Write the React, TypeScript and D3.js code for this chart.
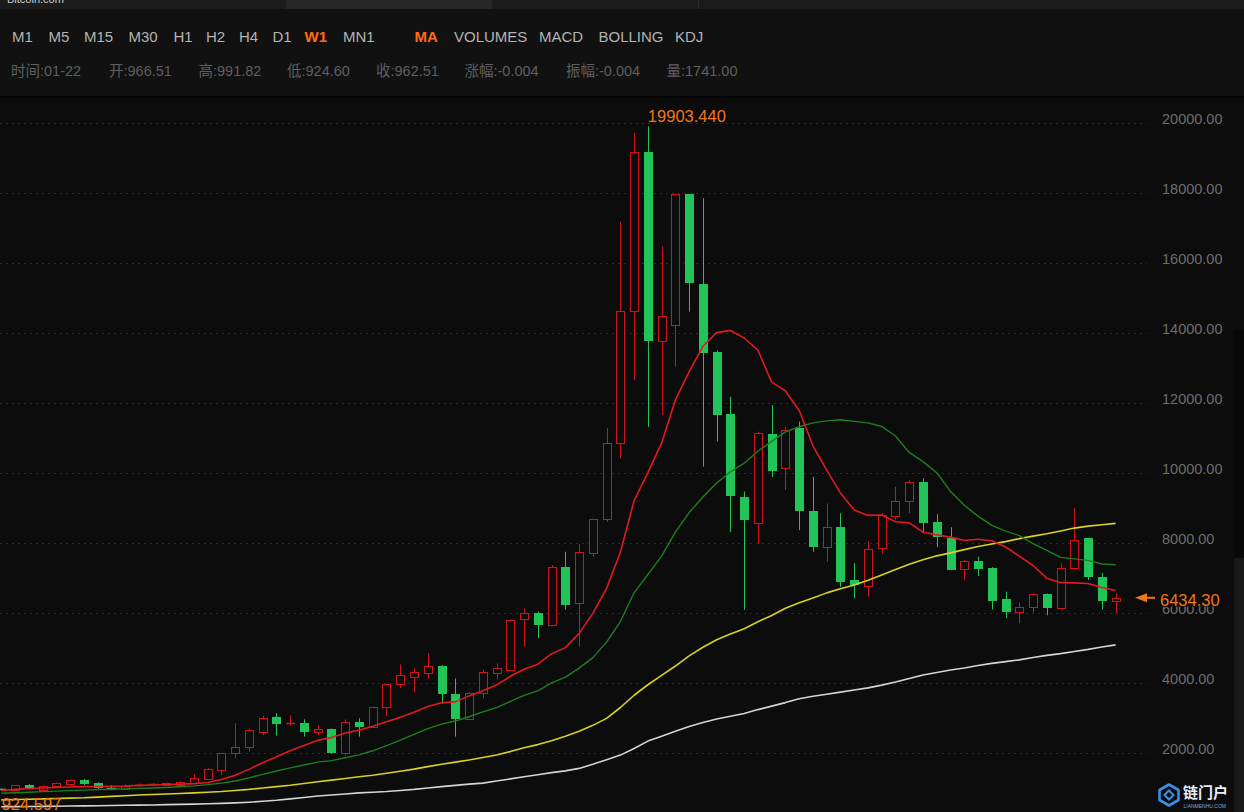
import React from "react";
import * as d3 from "d3";

// weekly candles, 2017-01-22 .. 2018-08-12
const opens = [
  966.51, 950, 1085, 950, 1070, 1105, 1230, 1150, 1010, 985,
  1060, 1080, 1095, 1090, 1135, 1260, 1515, 1990, 2170, 2610,
  3030, 2840, 2870, 2610, 2680, 1990, 2885, 2740, 3300, 3960,
  4180, 4300, 4500, 3680, 2960, 3720, 4280, 4370, 5820, 5990,
  5660, 7320, 6280, 7720, 8680, 10850, 14640, 19180, 13780, 14230,
  17960, 15400, 13470, 11690, 9320, 8580, 11110, 10130, 11280, 8920,
  7880, 8470, 6940, 6770, 7850, 8780, 9210, 9750, 8610, 8130,
  7260, 7500, 7300, 6400, 6040, 6180, 6540, 6130, 7280, 8130,
  7040, 6350,
];
const highs = [
  991.82, 1090, 1110, 1075, 1160, 1250, 1260, 1160, 1080, 1100,
  1130, 1150, 1160, 1190, 1400, 1565, 2000, 2850, 2700, 3060,
  3140, 3080, 2960, 2800, 2700, 2960, 2990, 3330, 3970, 4530,
  4420, 4850, 4510, 4130, 3730, 4380, 4560, 5820, 6130, 6040,
  7370, 7750, 7970, 8700, 11280, 17180, 19720, 19903.44, 16470, 17970,
  17970, 17850, 13500, 12180, 9470, 11180, 11940, 11320, 11470, 9890,
  9130, 8850, 7420, 8040, 8850, 9600, 9800, 9850, 8820, 8450,
  7520, 7610, 7310, 6610, 6300, 6560, 6560, 7420, 8990, 8150,
  7150, 6570,
];
const lows = [
  924.597, 930, 970, 935, 1060, 1100, 1090, 975, 935, 975,
  1040, 1060, 1080, 1080, 1125, 1250, 1370, 1850, 2040, 2510,
  2500, 2780, 2470, 2520, 1980, 1940, 2470, 2720, 3060, 3850,
  3730, 4130, 3400, 2470, 2940, 3560, 4100, 4360, 5040, 5280,
  5620, 6090, 5040, 7610, 8600, 10420, 12660, 11320, 11660, 13040,
  14610, 10180, 10900, 8320, 6090, 7990, 9890, 9510, 8370, 7750,
  7470, 6750, 6420, 6470, 7700, 8660, 8850, 8280, 7880, 7220,
  6940, 7060, 6100, 5850, 5710, 6010, 5940, 6100, 7250, 6940,
  6100, 6000,
];
const closes = [
  962.51, 1075, 995, 1065, 1135, 1225, 1115, 990, 965, 1050,
  1100, 1120, 1130, 1180, 1275, 1555, 1990, 2180, 2650, 2990,
  2840, 2870, 2610, 2700, 2010, 2875, 2750, 3320, 3960, 4230,
  4320, 4490, 3690, 2960, 3720, 4320, 4420, 5800, 5990, 5660,
  7320, 6230, 7750, 8690, 10850, 14640, 19180, 13780, 14490, 17960,
  15420, 13440, 11660, 9340, 8660, 11150, 10070, 11230, 8920, 7880,
  8450, 6900, 6800, 7820, 8800, 9210, 9750, 8560, 8160, 7230,
  7500, 7260, 6350, 6040, 6180, 6540, 6130, 7280, 8100, 7040,
  6350, 6434.3,
];

// moving averages as drawn on the chart
const ma10 = [
  930, 960, 980, 1000, 1015, 1030, 1040, 1045, 1050, 1058,
  1075, 1084, 1098, 1110, 1125, 1157, 1245, 1364, 1532, 1723,
  1895, 2067, 2214, 2366, 2440, 2573, 2649, 2763, 2894, 3018,
  3165, 3327, 3435, 3461, 3632, 3776, 3943, 4191, 4394, 4537,
  4837, 5011, 5417, 5990, 6703, 7735, 9211, 10009, 10859, 12089,
  12899, 13620, 14011, 14076, 13857, 13508, 12597, 12342, 11785, 10777,
  10080, 9426, 8940, 8788, 8802, 8608, 8576, 8309, 8233, 8168,
  8073, 8109, 8064, 7886, 7624, 7357, 6995, 6867, 6861, 6842,
  6727, 6644,
];
const ma20 = [
  850, 865, 880, 895, 910, 925, 940, 955, 965, 975,
  990, 1000, 1015, 1035, 1060, 1095, 1140, 1200, 1290, 1391,
  1485, 1576, 1656, 1738, 1782, 1865, 1947, 2063, 2213, 2370,
  2530, 2697, 2824, 2913, 3036, 3174, 3296, 3477, 3644, 3777,
  4001, 4169, 4426, 4725, 5167, 5756, 6577, 7100, 7627, 8313,
  8868, 9316, 9714, 10033, 10280, 10622, 10904, 11176, 11322, 11433,
  11490, 11523, 11476, 11432, 11330, 11058, 10587, 10326, 10009, 9473,
  9077, 8768, 8502, 8337, 8213, 7983, 7786, 7588, 7547, 7505,
  7400, 7377,
];
const ma50 = [
  660, 670, 680, 690, 700, 710, 720, 740, 760, 780,
  800, 815, 830, 845, 860, 880, 900, 930, 960, 1000,
  1040, 1080, 1130, 1180, 1225, 1270, 1320, 1365, 1420, 1480,
  1540, 1610, 1680, 1740, 1800, 1870, 1945, 2040, 2150, 2240,
  2350, 2480, 2620, 2790, 2990, 3300, 3650, 3950, 4220, 4485,
  4774, 5022, 5235, 5401, 5551, 5750, 5929, 6134, 6293, 6429,
  6575, 6690, 6803, 6936, 7087, 7240, 7395, 7523, 7633, 7718,
  7811, 7899, 7973, 8040, 8124, 8197, 8264, 8344, 8426, 8483,
  8523, 8562,
];
const ma100 = [
  465, 468, 472, 476, 480, 485, 490, 495, 500, 505,
  510, 516, 524, 532, 540, 550, 560, 575, 595, 620,
  650, 690, 730, 770, 800, 830, 860, 880, 900, 930,
  960, 1000, 1040, 1075, 1110, 1140, 1200, 1260, 1320, 1380,
  1440, 1490, 1560, 1680, 1810, 1940, 2130, 2340, 2480, 2620,
  2760, 2870, 2970, 3050, 3130, 3240, 3340, 3440, 3550, 3620,
  3680, 3740, 3800, 3860, 3940, 4030, 4130, 4230, 4300, 4370,
  4430, 4500, 4560, 4610, 4660, 4730, 4790, 4840, 4900, 4960,
  5030, 5090,
];

const yTicks = [2000, 4000, 6000, 8000, 10000, 12000, 14000, 16000, 18000, 20000];

const periods = ["M1", "M5", "M15", "M30", "H1", "H2", "H4", "D1", "W1", "MN1"];
const activePeriod = "W1";
const indicators = ["MA", "VOLUMES", "MACD", "BOLLING", "KDJ"];
const activeIndicator = "MA";
const infoLabels = ["时间", "开", "高", "低", "收", "涨幅", "振幅", "量"];
const infoValues = ["01-22", "966.51", "991.82", "924.60", "962.51", "-0.004", "-0.004", "1741.00"];
const lastPrice = 6434.3;

// layout
const W = 1244;
const H = 812;
const periodX = [12, 48.5, 84, 128.5, 173.5, 206, 239, 272.5, 304.5, 343];
const indicatorX = [414.5, 454, 539, 598.5, 675];
const infoX = [11, 109, 198.5, 287, 376, 464.5, 566, 666.5];

const BG = "#0c0c0c";
const UP = "#d0141c";
const DOWN = "#22c45a";
const ORANGE = "#f0761e";
const FONT = "'Liberation Sans', Arial, 'Noto Sans CJK SC', sans-serif";

export default function App() {
  const n = closes.length;
  const x = d3.scaleLinear().domain([0, n - 1]).range([1.3, 1115.6]);
  const y = d3.scaleLinear().domain([0, 20000]).range([823, 123]);

  const line = d3
    .line<number>()
    .x((_, i) => x(i))
    .y((d) => y(d));

  const maLines = [
    { data: ma100, color: "#d4d4d4", w: 1.6 },
    { data: ma50, color: "#d9d21f", w: 1.6 },
    { data: ma20, color: "#1f7f1f", w: 1.4 },
    { data: ma10, color: "#e01a1e", w: 1.6 },
  ];

  const hiIdx = d3.maxIndex(highs);
  const loIdx = d3.minIndex(lows);

  return (
    <svg
      width={W}
      height={H}
      style={{ position: "fixed", left: 0, top: 0, display: "block" }}
      fontFamily={FONT}
    >
      {/* backgrounds */}
      <rect x={0} y={0} width={W} height={H} fill={BG} />
      <rect x={0} y={0} width={W} height={97} fill="#111111" />
      <rect x={0} y={0} width={W} height={9} fill="#1b1b1b" />
      <rect x={286} y={0} width={206} height={9} fill="#262626" />
      <line x1={698.5} x2={698.5} y1={0} y2={9} stroke="#2c2c2c" />
      <text x={7} y={3} fill="#cfcfcf" fontSize={11}>Bitcoin.com</text>
      <rect x={0} y={96} width={W} height={2} fill="#050505" />
      <rect x={1234} y={330} width={10} height={228} fill="#080808" />
      <rect x={1234} y={558} width={10} height={254} fill="#191919" />

      {/* toolbar */}
      {periods.map((p, i) => (
        <text
          key={p}
          x={periodX[i]}
          y={41.5}
          fontSize={15}
          fill={p === activePeriod ? "#ff6a18" : "#b3b3b3"}
          fontWeight={p === activePeriod ? "bold" : "normal"}
        >
          {p}
        </text>
      ))}
      {indicators.map((p, i) => (
        <text
          key={p}
          x={indicatorX[i]}
          y={41.5}
          fontSize={15}
          fill={p === activeIndicator ? "#ff6a18" : "#b3b3b3"}
          fontWeight={p === activeIndicator ? "bold" : "normal"}
        >
          {p}
        </text>
      ))}
      {infoLabels.map((lab, i) => (
        <text key={lab} x={infoX[i]} y={76} fontSize={14.5} fill="#5f5f5f">
          {lab}:{infoValues[i]}
        </text>
      ))}

      {/* grid and axis labels */}
      {yTicks.map((t) => (
        <g key={t}>
          <line
            x1={0}
            x2={1147}
            y1={Math.round(y(t)) + 0.5}
            y2={Math.round(y(t)) + 0.5}
            stroke="#2a2a2a"
            strokeDasharray="2,4"
          />
          <text x={1162} y={y(t) + 1} fontSize={14.5} fill="#6c6c6c">
            {t.toFixed(2)}
          </text>
        </g>
      ))}

      {/* candles */}
      {closes.map((c, i) => {
        const o = opens[i];
        const up = c >= o;
        const col = up ? UP : DOWN;
        const px = Math.round(x(i));
        const cx = px + 0.5;
        const top = Math.round(y(Math.max(o, c)));
        const bot = Math.round(y(Math.min(o, c)));
        const yh = y(highs[i]);
        const yl = y(lows[i]);
        const hgt = bot - top;
        if (hgt < 2) {
          return (
            <g key={i}>
              <line x1={cx} x2={cx} y1={yh} y2={yl} stroke={col} />
              <line x1={px - 4} x2={px + 5} y1={top + 0.5} y2={top + 0.5} stroke={col} strokeWidth={1.5} />
            </g>
          );
        }
        if (up) {
          return (
            <g key={i}>
              <line x1={cx} x2={cx} y1={yh} y2={top} stroke={col} />
              <line x1={cx} x2={cx} y1={bot + 1} y2={yl} stroke={col} />
              <rect x={px - 3.5} y={top + 0.5} width={8} height={hgt} fill={BG} stroke={col} />
            </g>
          );
        }
        return (
          <g key={i}>
            <line x1={cx} x2={cx} y1={yh} y2={yl} stroke={col} />
            <rect x={px - 4} y={top} width={9} height={hgt} fill={col} />
          </g>
        );
      })}

      {/* moving averages */}
      {maLines.map((m, k) => (
        <path key={k} d={line(m.data) || ""} fill="none" stroke={m.color} strokeWidth={m.w} strokeLinejoin="round" />
      ))}

      {/* high / low markers */}
      <text x={x(hiIdx)} y={y(highs[hiIdx]) - 4.7} fontSize={16.5} fill={ORANGE}>
        {highs[hiIdx].toFixed(3)}
      </text>
      <text x={x(loIdx) + 0.4} y={810} fontSize={16.5} fill={ORANGE}>
        {lows[loIdx].toFixed(3)}
      </text>

      {/* last price tag */}
      <rect x={1130} y={589} width={104} height={17.5} fill={BG} />
      <path
        d={`M${1135},${y(lastPrice)} L${1147},${y(lastPrice) - 4.5} L${1147},${y(lastPrice) + 4.5} Z`}
        fill={ORANGE}
      />
      <line x1={1146} x2={1155} y1={y(lastPrice)} y2={y(lastPrice)} stroke={ORANGE} strokeWidth={2} />
      <text x={1160} y={606} fontSize={16.5} fill={ORANGE}>
        {lastPrice.toFixed(2)}
      </text>

      {/* watermark */}
      <g transform="translate(1158,783)">
        <path
          d="M11 1.5 L20.5 7 L20.5 17 L11 22.5 L1.5 17 L1.5 7 Z"
          fill="none"
          stroke="#3a8ee8"
          strokeWidth={2.6}
          strokeLinejoin="round"
        />
        <path d="M6.5 12 L11 7.5 L15.5 12 L11 16.5 Z" fill="none" stroke="#3a8ee8" strokeWidth={2} />
        <text x={25} y={15} fill="#e6eefa" fontSize={15} fontWeight="bold" fontFamily="'Noto Sans CJK SC', sans-serif">
          链门户
        </text>
        <text x={25.5} y={24.5} fill="#7fa9dc" fontSize={5}>
          LIANMENHU.COM
        </text>
      </g>
    </svg>
  );
}
